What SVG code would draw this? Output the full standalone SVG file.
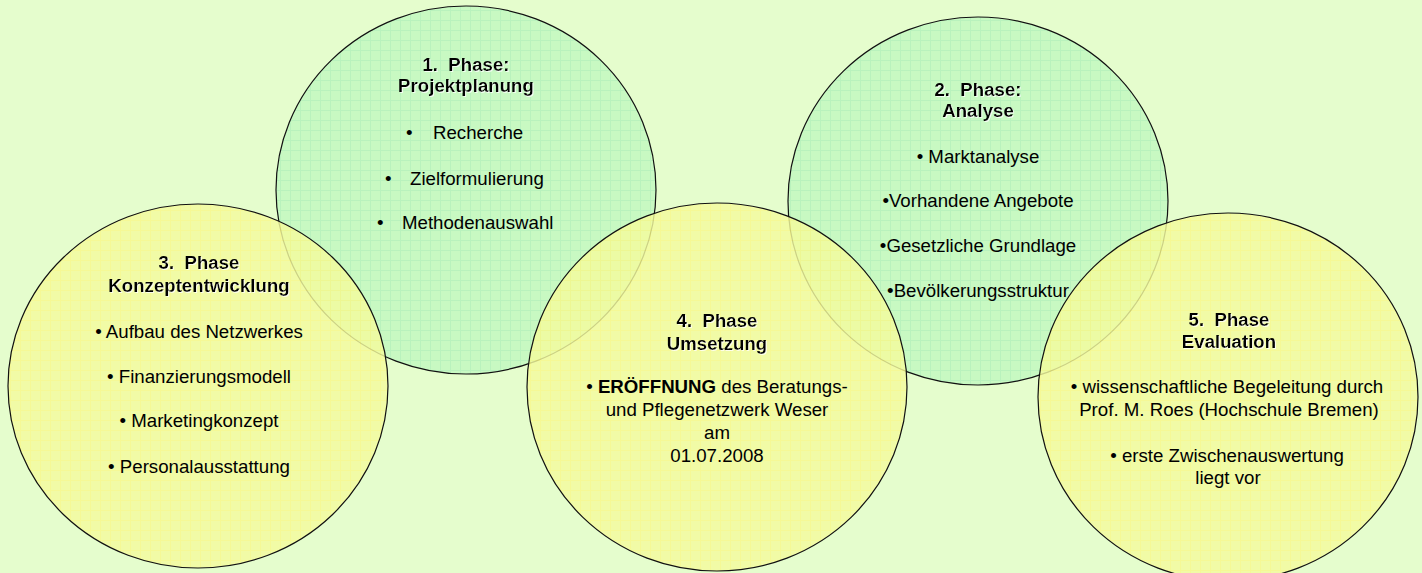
<svg xmlns="http://www.w3.org/2000/svg" width="1422" height="573" viewBox="0 0 1422 573">
<style>
  text { font-family: "Liberation Sans", Arial, sans-serif; font-size: 18.67px; fill: #000; }
  .c { text-anchor: middle; }
  .t { font-weight: bold; white-space: pre; filter: url(#emb); }
  .g { fill: url(#patG); stroke: #111; stroke-width: 1.2; }
  .y { fill: url(#patY); fill-opacity: 0.82; stroke: #111; stroke-width: 1.2; }
</style>
<defs>
  <pattern id="patG" width="10" height="10" patternUnits="userSpaceOnUse">
    <rect width="10" height="10" fill="#c8f9c2"/>
    <path d="M0 0.5H10M0.5 0V10" stroke="#b9f2bd" stroke-width="1"/>
  </pattern>
  <pattern id="patY" width="10" height="10" patternUnits="userSpaceOnUse">
    <rect width="10" height="10" fill="#f4fb9e"/>
    <path d="M0 0.5H10M0.5 0V10" stroke="#f8f88a" stroke-width="1"/>
  </pattern>
  <filter id="emb" x="-5%" y="-20%" width="110%" height="140%">
    <feDropShadow dx="1" dy="1" stdDeviation="0" flood-color="#ffffff" flood-opacity="0.8"/>
  </filter>
</defs>
<rect width="1422" height="573" fill="#e5fdcd"/>

<g id="connectors"></g>

<g id="phase1">
  <ellipse class="g" cx="466" cy="190" rx="190" ry="184"/>
  <text class="c t" x="466" y="71">1.  Phase:</text>
  <text class="c t" x="466" y="92">Projektplanung</text>
  <text y="139"><tspan x="406">•</tspan><tspan x="433">Recherche</tspan></text>
  <text y="185"><tspan x="385">•</tspan><tspan x="410">Zielformulierung</tspan></text>
  <text y="229"><tspan x="377">•</tspan><tspan x="402">Methodenauswahl</tspan></text>
</g>

<g id="phase2">
  <ellipse class="g" cx="978" cy="201" rx="190" ry="184"/>
  <text class="c t" x="978" y="96">2.  Phase:</text>
  <text class="c t" x="978" y="117">Analyse</text>
  <text class="c" x="978" y="163">• Marktanalyse</text>
  <text class="c" x="978" y="207">•Vorhandene Angebote</text>
  <text class="c" x="978" y="252">•Gesetzliche Grundlage</text>
  <text class="c" x="978" y="297">•Bevölkerungsstruktur</text>
</g>

<g id="phase3">
  <ellipse class="y" cx="198" cy="386" rx="190" ry="182"/>
  <text class="c t" x="199" y="269">3.  Phase</text>
  <text class="c t" x="199" y="292">Konzeptentwicklung</text>
  <text class="c" x="199" y="338">• Aufbau des Netzwerkes</text>
  <text class="c" x="199" y="383">• Finanzierungsmodell</text>
  <text class="c" x="199" y="427">• Marketingkonzept</text>
  <text class="c" x="199" y="473">• Personalausstattung</text>
</g>

<g id="phase4">
  <ellipse class="y" cx="717" cy="387" rx="190" ry="184"/>
  <text class="c t" x="717" y="327">4.  Phase</text>
  <text class="c t" x="717" y="350">Umsetzung</text>
  <text class="c" x="717" y="393">• <tspan font-weight="bold">ERÖFFNUNG</tspan> des Beratungs-</text>
  <text class="c" x="717" y="416">und Pflegenetzwerk Weser</text>
  <text class="c" x="717" y="439">am</text>
  <text class="c" x="717" y="462">01.07.2008</text>
</g>

<g id="phase5">
  <ellipse class="y" cx="1228" cy="397" rx="190" ry="184"/>
  <text class="c t" x="1229" y="326">5.  Phase</text>
  <text class="c t" x="1229" y="348">Evaluation</text>
  <text class="c" x="1227" y="393">• wissenschaftliche Begeleitung durch</text>
  <text class="c" x="1229" y="416">Prof. M. Roes (Hochschule Bremen)</text>
  <text class="c" x="1227" y="462">• erste Zwischenauswertung</text>
  <text class="c" x="1228" y="484">liegt vor</text>
</g>
</svg>
